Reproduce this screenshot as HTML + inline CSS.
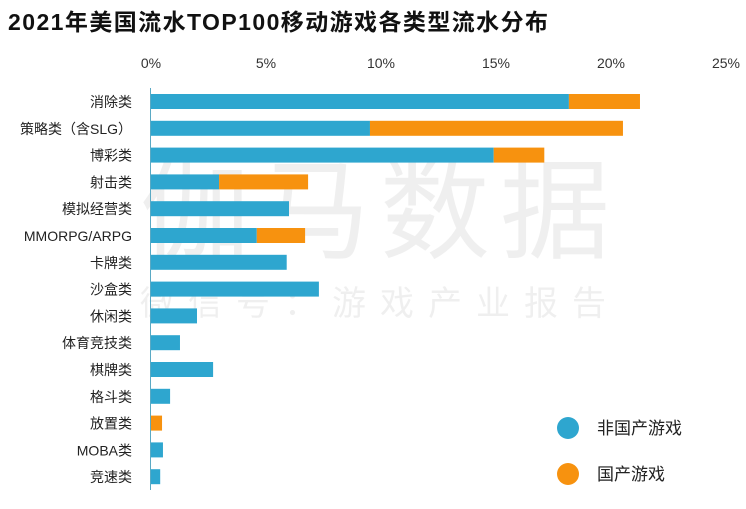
<!DOCTYPE html>
<html><head><meta charset="utf-8"><style>
body{margin:0;width:746px;height:504px;background:#fff;overflow:hidden;font-family:"Liberation Sans","Noto Sans CJK SC",sans-serif;}
</style></head><body>
<svg id="c" width="746" height="504" xmlns="http://www.w3.org/2000/svg">
<text x="8" y="30" font-size="23" font-weight="bold" fill="#111" textLength="540" lengthAdjust="spacing" font-family="Liberation Sans, Noto Sans CJK SC, sans-serif">2021年美国流水TOP100移动游戏各类型流水分布</text>
<g fill="#000" opacity="0.06" font-family="Noto Sans CJK SC, sans-serif">
<text x="140" y="250" font-size="110" letter-spacing="10">伽马数据</text>
<text x="140" y="315" font-size="34" letter-spacing="14">微信号：游戏产业报告</text>
</g>
<g id="axis"></g><g id="bars"></g>
<g>
<circle cx="568" cy="428" r="11" fill="#2ea6cf"/>
<text x="597" y="434" font-size="17" fill="#222">非国产游戏</text>
<circle cx="568" cy="474" r="11" fill="#f7920f"/>
<text x="597" y="480" font-size="17" fill="#222">国产游戏</text>
</g>
</svg>
<script>
const categories=["消除类","策略类（含SLG）","博彩类","射击类","模拟经营类","MMORPG/ARPG","卡牌类","沙盒类","休闲类","体育竞技类","棋牌类","格斗类","放置类","MOBA类","竞速类"];
const foreign=[18.17,9.52,14.9,2.96,6.0,4.6,5.9,7.3,2.0,1.26,2.7,0.83,0,0.52,0.4];
const domestic=[3.09,11.0,2.2,3.87,0,2.1,0,0,0,0,0,0,0.48,0,0];
const ticks=[0,5,10,15,20,25];
const NS="http://www.w3.org/2000/svg";
const x=v=>151+v*23;
const y=i=>94+i*26.8;
const ax=document.getElementById('axis'),bg=document.getElementById('bars');
function mk(t,a,p){const e=document.createElementNS(NS,t);for(const k in a)e.setAttribute(k,a[k]);p.appendChild(e);return e;}
ticks.forEach(t=>{const e=mk('text',{x:x(t),y:68,'font-size':14,fill:'#333','text-anchor':'middle'},ax);e.textContent=t+'%';

});
const l=mk('line',{x1:150.5,x2:150.5,y1:88,y2:490,stroke:'#5aa9c4','stroke-width':1},ax);


categories.forEach((c,i)=>{
const t=mk('text',{x:132,y:y(i)+13,'font-size':14,fill:'#222','text-anchor':'end'},ax);t.textContent=c;


if(foreign[i]>0){const r=mk('rect',{x:x(0),y:y(i),width:x(foreign[i])-x(0),height:15,fill:'#2ea6cf'},bg);

}
if(domestic[i]>0){const r=mk('rect',{x:x(foreign[i]),y:y(i),width:x(domestic[i])-x(0),height:15,fill:'#f7920f'},bg);

}
});
</script>
</body></html>
